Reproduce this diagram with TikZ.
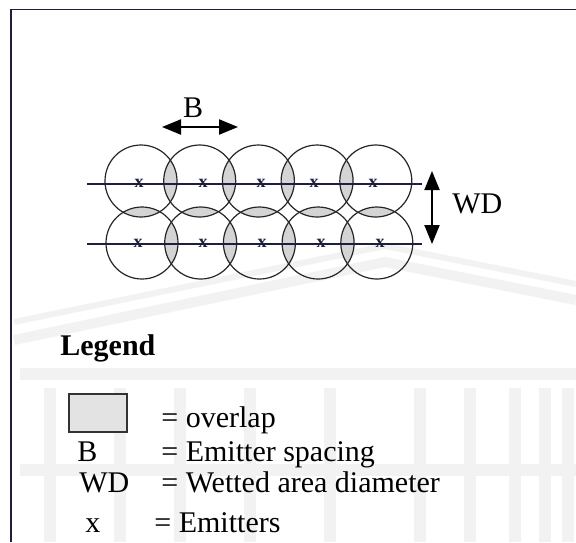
\documentclass[tikz,border=0pt]{standalone}
\usepackage{fontspec}
\setmainfont{Liberation Serif}
\usetikzlibrary{arrows.meta}
\definecolor{ink}{RGB}{30,30,62}
\definecolor{wmark}{RGB}{242,242,242}
\begin{document}
\begin{tikzpicture}[x=0.5pt,y=-0.5pt,
  ring/.style={draw=black!85, line width=0.6pt},
  lens/.style={fill=black!17},
  rowline/.style={draw=ink, line width=0.8pt},
  emit/.style={text=ink, font=\fontsize{9}{9}\selectfont\bfseries, inner sep=0pt},
  dim/.style={line width=1.1pt, {Triangle[length=9.5pt,width=7.5pt]}-{Triangle[length=9.5pt,width=7.5pt]}},
  lbl/.style={font=\fontsize{15}{15}\selectfont, inner sep=0pt, anchor=base west},
  wm/.style={draw=wmark, line cap=butt},
]
\useasboundingbox (0,0) rectangle (576,542);
\fill[white] (0,0) rectangle (576,542);

% faint background emblem (roof, beams, columns)
\draw[wm, line width=5pt] (14,340) -- (385,262) -- (576,300);
\draw[wm, line width=3pt] (14,322) -- (385,246) -- (576,284);
\draw[wm, line width=6pt] (20,374) -- (576,374);
\draw[wm, line width=6pt] (20,470) -- (576,470);
\foreach \cx in {50,120,180,250,330,420,470,515,545,568}
  \draw[wm, line width=6pt] (\cx,388) -- (\cx,542);

% frame
\draw[draw=ink, line width=0.8pt] (11,542) -- (11,9.5) -- (576,9.5);

% emitter positions (circle centres)
\foreach \i in {1,...,5} {
  \coordinate (t\i) at ({141+58.7*(\i-1)},181);
  \coordinate (b\i) at ({142+58.7*(\i-1)},243);
}

% overlap zones between neighbouring wetted circles
\foreach \i/\j in {1/2,2/3,3/4,4/5} {
  \begin{scope}
    \clip (t\i) circle[radius=18pt];
    \fill[lens] (t\j) circle[radius=18pt];
  \end{scope}
  \begin{scope}
    \clip (b\i) circle[radius=18pt];
    \fill[lens] (b\j) circle[radius=18pt];
  \end{scope}
}
\foreach \i in {1,...,5} {
  \begin{scope}
    \clip (t\i) circle[radius=18pt];
    \fill[lens] (b\i) circle[radius=18pt];
  \end{scope}
}

% wetted circles
\foreach \i in {1,...,5} {
  \draw[ring] (t\i) circle[radius=18pt];
  \draw[ring] (b\i) circle[radius=18pt];
}

% lateral lines
\coordinate (l1a) at (87,184);  \coordinate (l1b) at (422,184);
\coordinate (l2a) at (87,244);  \coordinate (l2b) at (422,244);
\draw[rowline] (l1a) -- (l1b);
\draw[rowline] (l2a) -- (l2b);

% emitters
\foreach \n/\px in {1/139,2/203,3/261,4/314,5/373}
  \node[emit] (e\n) at (\px,183) {x};
\foreach \n/\px in {1/138,2/203,3/262,4/321,5/380}
  \node[emit] (f\n) at (\px,243) {x};

% emitter spacing B
\coordinate (bl) at (162,127);
\coordinate (br) at (238,127);
\draw[dim] (bl) -- (br);
\node[lbl, anchor=base] (blab) at (193,117) {B};

% wetted diameter WD
\coordinate (wt) at (432,171);
\coordinate (wb) at (432,244);
\draw[dim, line width=1pt] (wt) -- (wb);
\node[lbl] (wlab) at (452,213) {WD};

% legend
\node[lbl, font=\fontsize{15}{15}\selectfont\bfseries] (leg) at (60,355) {Legend};
\node[draw=black!80, line width=1pt, fill=black!11, minimum width=29pt, minimum height=19pt,
      inner sep=0pt, anchor=north west] (sw) at (68,393) {};
\node[lbl] (d1) at (161,427) {= overlap};
\node[lbl] (k2) at (77,461) {B};
\node[lbl] (d2) at (161,461) {= Emitter spacing};
\node[lbl] (k3) at (79,492) {WD};
\node[lbl] (d3) at (161,492) {= Wetted area diameter};
\node[lbl] (k4) at (85,532) {x};
\node[lbl] (d4) at (154,532) {= Emitters};
\end{tikzpicture}
\end{document}
